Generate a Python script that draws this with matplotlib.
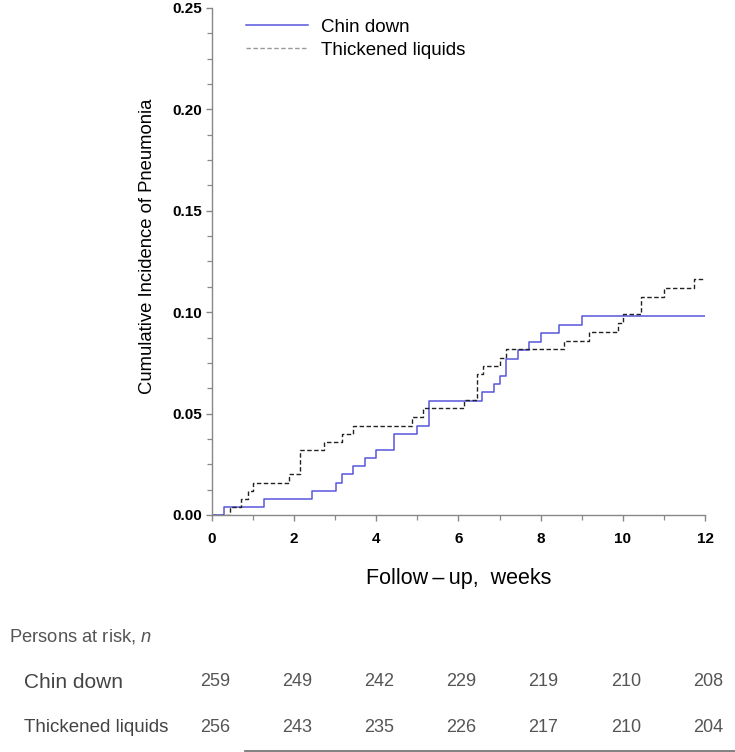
import matplotlib
matplotlib.use('Agg')
import matplotlib.pyplot as plt
from matplotlib.lines import Line2D
from matplotlib.ticker import MultipleLocator
import matplotlib.transforms as mtransforms

plt.rcParams['font.family'] = ['Liberation Sans', 'DejaVu Sans']
plt.rcParams['mathtext.fontset'] = 'custom'
plt.rcParams['mathtext.rm'] = 'Liberation Sans'
plt.rcParams['mathtext.it'] = 'Liberation Sans:italic'

# step curves (weeks, cumulative incidence)
chin_t = [0, 0.29, 1.27, 2.43, 3.01, 3.16, 3.44, 3.72, 4.0, 4.44, 5.0, 5.28,
          6.58, 6.86, 7.01, 7.15, 7.44, 7.72, 8.01, 8.44, 9.01, 12]
chin_y = [0, 0.004, 0.008, 0.012, 0.016, 0.020, 0.024, 0.028, 0.032, 0.040, 0.044, 0.056,
          0.0605, 0.0645, 0.0687, 0.0769, 0.0812, 0.0853, 0.0896, 0.0937, 0.098, 0.098]

thick_t = [0, 0.44, 0.71, 0.87, 1.01, 1.87, 2.15, 2.73, 3.16, 3.44, 4.86, 5.14,
           6.13, 6.44, 6.59, 7.01, 7.15, 8.58, 9.17, 9.88, 10.01, 10.43, 11.01, 11.72, 12]
thick_y = [0, 0.004, 0.008, 0.012, 0.016, 0.020, 0.032, 0.036, 0.040, 0.044, 0.0485, 0.0526,
           0.0567, 0.0695, 0.0736, 0.0776, 0.0818, 0.086, 0.0904, 0.0948, 0.099, 0.1076, 0.112, 0.1164, 0.1164]

# persons at risk table
risk_weeks = [0, 2, 4, 6, 8, 10, 12]
risk_chin = [259, 249, 242, 229, 219, 210, 208]
risk_thick = [256, 243, 235, 226, 217, 210, 204]

fig = plt.figure(figsize=(7.35, 7.52), dpi=100)
ax = fig.add_axes([0.2884, 0.3152, 0.6708, 0.6742])

blue = '#5656dc'
ax.step(chin_t, chin_y, where='post', color=blue, lw=1.1)
ax.step(thick_t, thick_y, where='post', color='#222222', lw=1.0, linestyle=(0, (3.2, 1.8)))

ax.set_xlim(0, 12)
ax.set_ylim(0, 0.25)
ax.xaxis.set_major_locator(MultipleLocator(2))
ax.xaxis.set_minor_locator(MultipleLocator(1))
ax.yaxis.set_major_locator(MultipleLocator(0.05))
ax.yaxis.set_minor_locator(MultipleLocator(0.0125))
ax.yaxis.set_major_formatter(matplotlib.ticker.FormatStrFormatter('%.2f'))

for s in ['top', 'right']:
    ax.spines[s].set_visible(False)
for s in ['left', 'bottom']:
    ax.spines[s].set_color('#888888')
    ax.spines[s].set_linewidth(1.0)

ax.tick_params(axis='both', which='both', direction='out', color='#888888')
ax.tick_params(axis='both', which='major', length=4, width=1.0)
ax.tick_params(axis='both', which='minor', length=3.5, width=0.9)
ax.tick_params(axis='x', which='major', pad=8)
ax.tick_params(axis='y', which='major', pad=3)
for lab in ax.get_xticklabels() + ax.get_yticklabels():
    lab.set_fontweight('bold')
    lab.set_fontsize(11)

ax.set_ylabel('Cumulative Incidence of Pneumonia', fontsize=13.3)
ax.yaxis.set_label_coords(-0.114, 0.53)
ax.set_xlabel('Follow\u2009\u2013\u2009up,  weeks', fontsize=15.5)
ax.xaxis.set_label_coords(0.5, -0.105)

handles = [Line2D([], [], color=blue, lw=1.1),
           Line2D([], [], color='#999999', lw=1.0, linestyle=(0, (3.2, 1.8)))]
ax.legend(handles, ['Chin down', 'Thickened liquids'], loc='upper left',
          bbox_to_anchor=(0.035, 1.012), frameon=False, fontsize=13.5,
          handlelength=3.3, handletextpad=0.7, labelspacing=0.3)

# risk table
fig.text(9 / 735, 1 - 637 / 752, 'Persons at risk, $\\mathit{n}$', fontsize=13.2,
         color='#555555', va='center', ha='left')
fig.text(24 / 735, 1 - 682 / 752, 'Chin down', fontsize=15, color='#444444', va='center')
fig.text(24 / 735, 1 - 728 / 752, 'Thickened liquids', fontsize=13.5, color='#444444', va='center')

trans = mtransforms.blended_transform_factory(ax.transData, fig.transFigure)
for w, a, b in zip(risk_weeks, risk_chin, risk_thick):
    fig.text(w + 0.07, 1 - 682 / 752, str(a), transform=trans, fontsize=13,
             color='#555555', ha='center', va='center')
    fig.text(w + 0.07, 1 - 728 / 752, str(b), transform=trans, fontsize=13,
             color='#555555', ha='center', va='center')

fig.add_artist(Line2D([245 / 735, 1.0], [1 - 751 / 752, 1 - 751 / 752],
                      transform=fig.transFigure, color='#777777', lw=1.3))

fig.savefig('out.png', dpi=100)
